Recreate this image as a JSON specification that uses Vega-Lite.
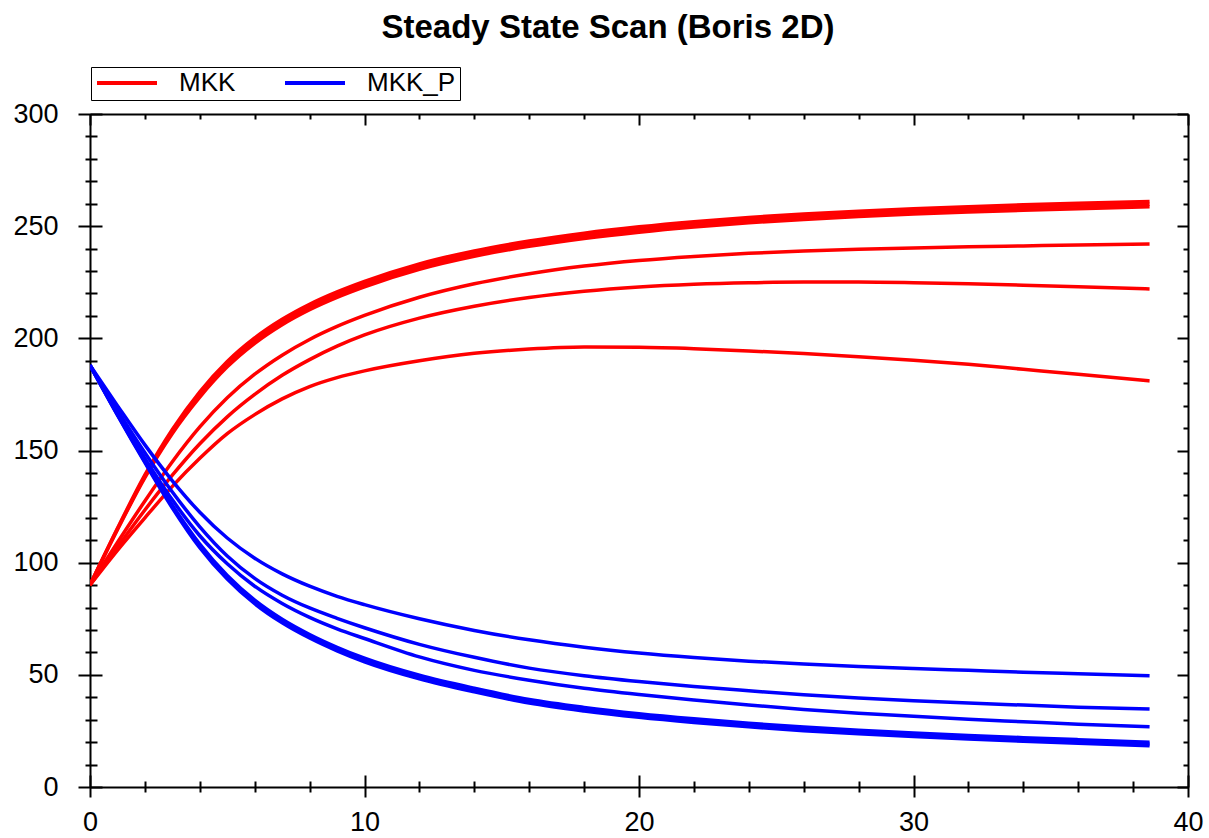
{
  "$schema": "https://vega.github.io/schema/vega-lite/v6.json",
  "width": 1098,
  "height": 673,
  "autosize": "none",
  "padding": {"left": 90, "top": 114, "right": 21, "bottom": 51},
  "background": "white",
  "config": {
    "view": {"stroke": null},
    "font": "Liberation Sans",
    "axis": {"grid": false, "title": null, "domainColor": "black", "domainWidth": 2, "tickColor": "black", "tickWidth": 2, "labelColor": "black", "labelFont": "Liberation Sans", "labelFontSize": 27, "labelFlush": false, "labelOverlap": false}
  },
  "title": {"text": "Steady State Scan (Boris 2D)", "font": "Liberation Sans", "fontSize": 33, "fontWeight": "bold", "color": "black", "anchor": "middle", "frame": "bounds", "offset": 22},
  "data": {"values": [
    {"x": 0, "r1a": 90, "r1b": 90, "r1c": 90, "r2": 90, "r3": 90, "r4": 90, "b1a": 188, "b1b": 188, "b1c": 188, "b2": 188, "b3": 188, "b4": 188},
    {"x": 1, "r1a": 114.7, "r1b": 115, "r1c": 115.3, "r2": 109, "r3": 107, "r4": 105.5, "b1a": 165.8, "b1b": 166, "b1c": 166.2, "b2": 166.5, "b3": 168, "b4": 170},
    {"x": 2, "r1a": 137.9, "r1b": 138.5, "r1c": 139.1, "r2": 127.5, "r3": 123.5, "r4": 120, "b1a": 144.6, "b1b": 145, "b1c": 145.4, "b2": 146.5, "b3": 149, "b4": 152.5},
    {"x": 3, "r1a": 157.6, "r1b": 158.5, "r1c": 159.4, "r2": 145, "r3": 139, "r4": 134, "b1a": 124.4, "b1b": 125, "b1c": 125.6, "b2": 128, "b3": 131.5, "b4": 136.5},
    {"x": 4, "r1a": 173.8, "r1b": 175, "r1c": 176.2, "r2": 160.5, "r3": 153, "r4": 146.5, "b1a": 106.7, "b1b": 107.5, "b1c": 108.3, "b2": 112, "b3": 116, "b4": 122.5},
    {"x": 5, "r1a": 187.3, "r1b": 188.5, "r1c": 189.7, "r2": 173.5, "r3": 165, "r4": 157.5, "b1a": 92.7, "b1b": 93.5, "b1c": 94.3, "b2": 99.5, "b3": 103, "b4": 111},
    {"x": 6, "r1a": 197.8, "r1b": 199, "r1c": 200.2, "r2": 184, "r3": 175, "r4": 166, "b1a": 81.7, "b1b": 82.5, "b1c": 83.3, "b2": 89.5, "b3": 93, "b4": 102},
    {"x": 7, "r1a": 206.1, "r1b": 207.3, "r1c": 208.5, "r2": 192.5, "r3": 183.5, "r4": 173, "b1a": 73.2, "b1b": 74, "b1c": 74.8, "b2": 81.8, "b3": 85.5, "b4": 95},
    {"x": 8, "r1a": 212.8, "r1b": 214, "r1c": 215.2, "r2": 199.5, "r3": 190.5, "r4": 178.5, "b1a": 66.4, "b1b": 67.2, "b1c": 68, "b2": 75.6, "b3": 79.8, "b4": 89.5},
    {"x": 9, "r1a": 218.3, "r1b": 219.5, "r1c": 220.7, "r2": 205.3, "r3": 196.5, "r4": 182.5, "b1a": 60.7, "b1b": 61.5, "b1c": 62.3, "b2": 70.5, "b3": 75.2, "b4": 85},
    {"x": 10, "r1a": 223, "r1b": 224.2, "r1c": 225.4, "r2": 210.2, "r3": 201.5, "r4": 185.5, "b1a": 55.8, "b1b": 56.6, "b1c": 57.4, "b2": 66.2, "b3": 71, "b4": 81.3},
    {"x": 12, "r1a": 230.8, "r1b": 232, "r1c": 233.2, "r2": 218.3, "r3": 209, "r4": 190, "b1a": 48.2, "b1b": 49, "b1c": 49.8, "b2": 58, "b3": 63.6, "b4": 75},
    {"x": 14, "r1a": 236.6, "r1b": 237.8, "r1c": 239, "r2": 224.3, "r3": 214.3, "r4": 193.3, "b1a": 42.4, "b1b": 43.2, "b1c": 44, "b2": 52, "b3": 57.8, "b4": 69.8},
    {"x": 16, "r1a": 241, "r1b": 242.2, "r1c": 243.4, "r2": 228.8, "r3": 218.2, "r4": 195.2, "b1a": 37.4, "b1b": 38.2, "b1c": 39, "b2": 47.6, "b3": 53, "b4": 65.6},
    {"x": 18, "r1a": 244.5, "r1b": 245.7, "r1c": 246.9, "r2": 232.2, "r3": 221, "r4": 196.1, "b1a": 33.9, "b1b": 34.7, "b1c": 35.5, "b2": 44, "b3": 49.6, "b4": 62.3},
    {"x": 20, "r1a": 247.3, "r1b": 248.5, "r1c": 249.7, "r2": 234.7, "r3": 222.9, "r4": 196, "b1a": 31.1, "b1b": 31.9, "b1c": 32.7, "b2": 41.2, "b3": 47, "b4": 59.7},
    {"x": 22, "r1a": 249.6, "r1b": 250.8, "r1c": 252, "r2": 236.5, "r3": 224.1, "r4": 195.4, "b1a": 28.8, "b1b": 29.6, "b1c": 30.4, "b2": 38.8, "b3": 44.8, "b4": 57.7},
    {"x": 24, "r1a": 251.5, "r1b": 252.7, "r1c": 253.9, "r2": 237.9, "r3": 224.8, "r4": 194.4, "b1a": 26.8, "b1b": 27.6, "b1c": 28.4, "b2": 36.6, "b3": 42.9, "b4": 56.1},
    {"x": 26, "r1a": 253, "r1b": 254.2, "r1c": 255.4, "r2": 238.9, "r3": 225.1, "r4": 193.2, "b1a": 25.1, "b1b": 25.9, "b1c": 26.7, "b2": 34.6, "b3": 41.1, "b4": 54.8},
    {"x": 28, "r1a": 254.3, "r1b": 255.5, "r1c": 256.7, "r2": 239.7, "r3": 225.1, "r4": 191.8, "b1a": 23.7, "b1b": 24.5, "b1c": 25.3, "b2": 32.9, "b3": 39.7, "b4": 53.7},
    {"x": 30, "r1a": 255.4, "r1b": 256.6, "r1c": 257.8, "r2": 240.3, "r3": 224.8, "r4": 190.2, "b1a": 22.5, "b1b": 23.3, "b1c": 24.1, "b2": 31.5, "b3": 38.5, "b4": 52.8},
    {"x": 32, "r1a": 256.3, "r1b": 257.5, "r1c": 258.7, "r2": 240.8, "r3": 224.3, "r4": 188.4, "b1a": 21.4, "b1b": 22.2, "b1c": 23, "b2": 30.2, "b3": 37.4, "b4": 52},
    {"x": 34, "r1a": 257.1, "r1b": 258.3, "r1c": 259.5, "r2": 241.2, "r3": 223.7, "r4": 186.2, "b1a": 20.4, "b1b": 21.2, "b1c": 22, "b2": 29.1, "b3": 36.5, "b4": 51.2},
    {"x": 36, "r1a": 257.8, "r1b": 259, "r1c": 260.2, "r2": 241.6, "r3": 223, "r4": 184, "b1a": 19.5, "b1b": 20.3, "b1c": 21.1, "b2": 28, "b3": 35.6, "b4": 50.5},
    {"x": 38.6, "r1a": 258.6, "r1b": 259.8, "r1c": 261, "r2": 242, "r3": 222, "r4": 181, "b1a": 18.4, "b1b": 19.2, "b1c": 20, "b2": 26.9, "b3": 34.8, "b4": 49.6}
  ]},
  "layer": [
    {
      "transform": [{"fold": ["r1a", "r1b", "r1c", "r2", "r3", "r4"], "as": ["k", "v"]}],
      "mark": {"type": "line", "strokeWidth": 3.5, "interpolate": "monotone", "clip": true},
      "encoding": {
        "x": {"field": "x", "type": "quantitative", "scale": {"domain": [0, 40], "nice": false, "zero": false},
              "axis": {"orient": "bottom", "values": [0, 10, 20, 30, 40], "ticks": false, "domain": true, "labels": true, "labelPadding": 22}},
        "y": {"field": "v", "type": "quantitative", "scale": {"domain": [0, 300], "nice": false},
              "axis": {"orient": "left", "values": [0, 50, 100, 150, 200, 250, 300], "ticks": false, "domain": true, "labels": true, "labelPadding": 32}},
        "detail": {"field": "k"},
        "color": {"datum": "MKK", "scale": {"domain": ["MKK", "MKK_P"], "range": ["#ff0000", "#0000ff"]},
                  "legend": {"title": null, "orient": "none", "legendX": 1, "legendY": -47, "direction": "horizontal", "symbolType": "stroke", "symbolSize": 3600, "symbolStrokeWidth": 4, "clipHeight": 24, "labelFontSize": 26, "labelFont": "Liberation Sans", "labelColor": "black", "labelOffset": 20, "columnPadding": 47, "padding": 4, "strokeColor": "black", "fillColor": "white", "labelLimit": 400}}
      }
    },
    {
      "transform": [{"fold": ["b1a", "b1b", "b1c", "b2", "b3", "b4"], "as": ["k", "v"]}],
      "mark": {"type": "line", "strokeWidth": 3.5, "interpolate": "monotone", "clip": true},
      "encoding": {
        "x": {"field": "x", "type": "quantitative",
              "axis": {"orient": "bottom", "values": [0, 10, 20, 30, 40], "offset": -12, "tickSize": 22, "domain": false, "labels": false}},
        "y": {"field": "v", "type": "quantitative",
              "axis": {"orient": "left", "values": [0, 50, 100, 150, 200, 250, 300], "offset": -12, "tickSize": 24, "domain": false, "labels": false}},
        "detail": {"field": "k"},
        "color": {"datum": "MKK_P"}
      }
    },
    {
      "mark": {"type": "point", "opacity": 0},
      "encoding": {
        "x": {"field": "x", "type": "quantitative",
              "axis": {"orient": "bottom", "values": [2, 4, 6, 8, 12, 14, 16, 18, 22, 24, 26, 28, 32, 34, 36, 38], "offset": -6, "tickSize": 11, "domain": false, "labels": false}},
        "y": {"field": "r2", "type": "quantitative",
              "axis": {"orient": "left", "values": [10, 20, 30, 40, 60, 70, 80, 90, 110, 120, 130, 140, 160, 170, 180, 190, 210, 220, 230, 240, 260, 270, 280, 290], "offset": -7, "tickSize": 12, "domain": false, "labels": false}}
      }
    },
    {
      "mark": {"type": "point", "opacity": 0},
      "encoding": {
        "x": {"field": "x", "type": "quantitative",
              "axis": {"orient": "top", "values": [0, 10, 20, 30, 40], "tickSize": -11, "domain": true, "labels": false}},
        "y": {"field": "r2", "type": "quantitative",
              "axis": {"orient": "right", "values": [0, 50, 100, 150, 200, 250, 300], "tickSize": -11, "domain": true, "labels": false}}
      }
    },
    {
      "mark": {"type": "point", "opacity": 0},
      "encoding": {
        "x": {"field": "x", "type": "quantitative",
              "axis": {"orient": "top", "values": [2, 4, 6, 8, 12, 14, 16, 18, 22, 24, 26, 28, 32, 34, 36, 38], "tickSize": -5, "domain": false, "labels": false}},
        "y": {"field": "r2", "type": "quantitative",
              "axis": {"orient": "right", "values": [10, 20, 30, 40, 60, 70, 80, 90, 110, 120, 130, 140, 160, 170, 180, 190, 210, 220, 230, 240, 260, 270, 280, 290], "tickSize": -5, "domain": false, "labels": false}}
      }
    }
  ],
  "resolve": {"axis": {"x": "independent", "y": "independent"}}
}
